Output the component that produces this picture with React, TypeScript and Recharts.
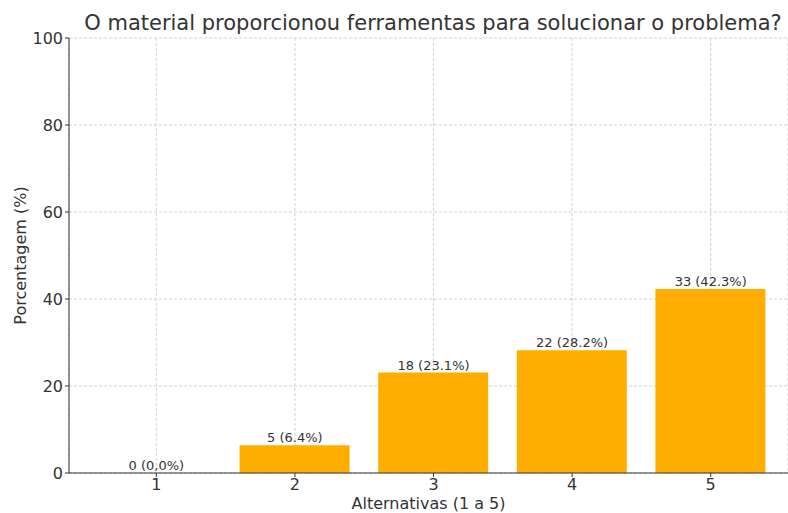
import { Bar, CartesianGrid, ComposedChart, LabelList, Line, XAxis, YAxis } from "recharts"

const alternatives = ["1", "2", "3", "4", "5"]
const percents = [0, 6.4, 23.1, 28.2, 42.3]
const barLabels = ["0 (0,0%)", "5 (6.4%)", "18 (23.1%)", "22 (28.2%)", "33 (42.3%)"]
const yTicks = [0, 20, 40, 60, 80, 100]

const data = alternatives.map((name, i) => ({
  name,
  pct: percents[i],
  label: barLabels[i],
}))

const font = "'DejaVu Sans', sans-serif"

export default function App() {
  return (
    <div style={{ position: "fixed", left: 0, top: 0, width: 788, height: 513, background: "#fff", fontFamily: font }}>
      <div
        style={{
          position: "absolute",
          left: 70,
          width: 726,
          top: 11,
          textAlign: "center",
          fontSize: 21,
          color: "#333",
          whiteSpace: "nowrap",
        }}
      >
        O material proporcionou ferramentas para solucionar o problema?
      </div>
      <ComposedChart width={788} height={513} data={data} margin={{ top: 38, right: 0, bottom: 0, left: 0 }}>
        <CartesianGrid stroke="#d2d2d2" strokeDasharray="3 2" />
        <XAxis
          dataKey="name"
          padding={{ left: 18, right: 8 }}
          height={40}
          stroke="#333"
          tickSize={4}
          tick={{ fill: "#333", fontSize: 16, fontFamily: font }}
          label={{ value: "Alternativas (1 a 5)", position: "insideBottom", offset: 4, fill: "#333", fontSize: 16, fontFamily: font }}
        />
        <YAxis
          width={69}
          domain={[0, 100]}
          ticks={yTicks}
          stroke="#333"
          tickSize={4}
          tick={{ fill: "#333", fontSize: 16, fontFamily: font }}
          label={{ value: "Porcentagem (%)", angle: -90, position: "insideLeft", offset: 20, style: { textAnchor: "middle" }, fill: "#333", fontSize: 16, fontFamily: font }}
        />
        <Bar dataKey="pct" fill="#FFAE00" barSize={110} isAnimationActive={false} />
        <Line dataKey="pct" stroke="none" dot={false} activeDot={false} isAnimationActive={false}>
          <LabelList dataKey="label" position="top" offset={3} fill="#333" fontSize={13} fontFamily={font} />
        </Line>
      </ComposedChart>
    </div>
  )
}
